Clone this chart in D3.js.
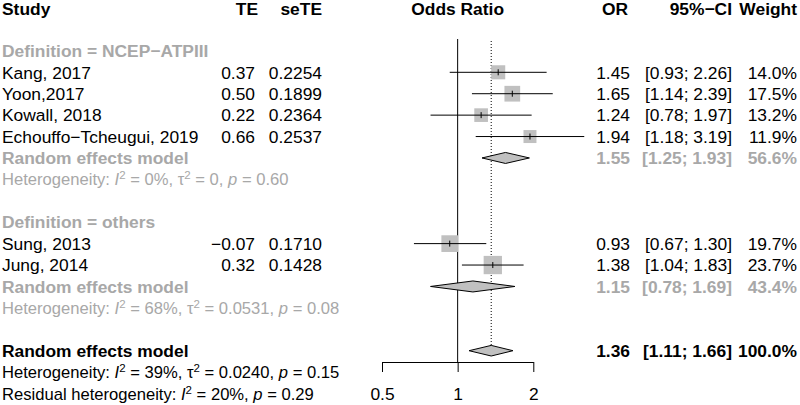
<!DOCTYPE html>
<html><head><meta charset="utf-8">
<script src="https://cdn.jsdelivr.net/npm/d3@7"></script>
<style>
html,body{margin:0;padding:0;background:#fff;}
svg text{font-family:"Liberation Sans",Arial,Helvetica,sans-serif;font-size:17.4px;}
</style></head>
<body><svg id="chart" width="800" height="405"></svg>
<script>
// ---- data ----
const groups = ["Definition = NCEP\u2212ATPIII", "Definition = others"];
const studies = ["Kang, 2017", "Yoon,2017", "Kowall, 2018", "Echouffo\u2212Tcheugui, 2019", "Sung, 2013", "Jung, 2014"];
const studyGroup = [0, 0, 0, 0, 1, 1];
const te = ["0.37", "0.50", "0.22", "0.66", "\u22120.07", "0.32"];
const seTE = ["0.2254", "0.1899", "0.2364", "0.2537", "0.1710", "0.1428"];
const orVals = [1.45, 1.65, 1.24, 1.94, 0.93, 1.38];
const lower = [0.93, 1.14, 0.78, 1.18, 0.67, 1.04];
const upper = [2.26, 2.39, 1.97, 3.19, 1.30, 1.83];
const weights = [14.0, 17.5, 13.2, 11.9, 19.7, 23.7];
const subOR = [1.55, 1.15];
const subLower = [1.25, 0.78];
const subUpper = [1.93, 1.69];
const subWeight = [56.6, 43.4];
const overallOR = 1.36, overallLower = 1.11, overallUpper = 1.66, overallWeight = 100.0;
const hetI2 = ["0%", "68%", "39%"];
const hetTau2 = ["0", "0.0531", "0.0240"];
const hetP = ["0.60", "0.08", "0.15"];
const residI2 = "20%", residP = "0.29";
const axisTicks = [0.5, 1, 2];
const headers = {study: "Study", te: "TE", se: "seTE", plot: "Odds Ratio", or: "OR", ci: "95%\u2212CI", w: "Weight"};

// ---- layout ----
const svg = d3.select("#chart");
const x = d3.scaleLog().domain([0.5, 2]).range([382, 533.3]);
const row = d3.scaleLinear().domain([2, 15]).range([72.3, 350.7]);
const GREY = "#a8a8a8";
const col = {study: 2, te: 255, se: 322, or: 630, ci: 732, w: 797};
const fmt2 = d3.format(".2f"), fmt1 = d3.format(".1f");
const ciText = (l, u) => "[" + fmt2(l) + "; " + fmt2(u) + "]";

function txt(xp, yp, s, opt = {}) {
  return svg.append("text").attr("x", xp).attr("y", yp).attr("dy", "0.36em")
    .attr("text-anchor", opt.anchor || "start")
    .attr("font-weight", opt.bold ? "bold" : "normal")
    .attr("fill", opt.color || "#000").text(s);
}
function rich(xp, yp, segs, color) {
  const t = svg.append("text").attr("x", xp).attr("y", yp).attr("dy", "0.36em")
    .attr("fill", color).style("font-size", "16.6px");
  segs.forEach(s => {
    const sp = t.append("tspan").text(s.t);
    if (s.i) sp.attr("font-style", "italic");
    if (s.sup) sp.attr("baseline-shift", "super").style("font-size", "11.5px");
  });
}
function het(prefix, i2, tau2, p) {
  const segs = [{t: prefix}, {t: "I", i: 1}, {t: "2", sup: 1}, {t: " = " + i2 + ", "}];
  if (tau2 !== null) segs.push({t: "\u03c4"}, {t: "2", sup: 1}, {t: " = " + tau2 + ", "});
  segs.push({t: "p", i: 1}, {t: " = " + p});
  return segs;
}

// headers
const hy = 9;
txt(col.study, hy, headers.study, {bold: 1});
txt(258, hy, headers.te, {bold: 1, anchor: "end"});
txt(col.se, hy, headers.se, {bold: 1, anchor: "end"});
txt((x.range()[0] + x.range()[1]) / 2, hy, headers.plot, {bold: 1, anchor: "middle"});
txt(628, hy, headers.or, {bold: 1, anchor: "end"});
txt(col.ci, hy, headers.ci, {bold: 1, anchor: "end"});
txt(col.w, hy, headers.w, {bold: 1, anchor: "end"});

// row positions
const groupRow = [1, 9];
const studyRow = [2, 3, 4, 5, 10, 11];
const subRow = [6, 12];
const hetRow = [7, 13];
const overallRow = 15;

// reference lines
svg.append("line").attr("x1", x(1)).attr("x2", x(1)).attr("y1", 39).attr("y2", 362)
  .attr("stroke", "#000").attr("stroke-width", 1);
svg.append("line").attr("x1", x(overallOR)).attr("x2", x(overallOR)).attr("y1", 41)
  .attr("y2", row(overallRow) - 5.3)
  .attr("stroke", "#000").attr("stroke-width", 1).attr("stroke-dasharray", "1,2");

// axis
const axisY = 362;
const axis = d3.axisBottom(x).tickValues(axisTicks).tickFormat(d => d).tickSize(10).tickSizeOuter(0);
const ag = svg.append("g").attr("transform", `translate(0,${axisY})`).call(axis);
ag.select(".domain").attr("stroke", "#000");
ag.selectAll(".tick line").attr("stroke", "#000");
ag.selectAll(".tick text").attr("font-size", "17.4px").attr("fill", "#000")
  .attr("font-family", "Liberation Sans, Arial, sans-serif").attr("y", 32).attr("dy", "0.36em");

// group labels
groups.forEach((g, i) => txt(col.study, row(groupRow[i]), g, {bold: 1, color: GREY}));

// studies
studies.forEach((s, i) => {
  const y = row(studyRow[i]);
  txt(col.study, y, s);
  txt(col.te, y, te[i], {anchor: "end"});
  txt(col.se, y, seTE[i], {anchor: "end"});
  txt(col.or, y, fmt2(orVals[i]), {anchor: "end"});
  txt(col.ci, y, ciText(lower[i], upper[i]), {anchor: "end"});
  txt(col.w, y, fmt1(weights[i]) + "%", {anchor: "end"});
  const sz = 3.76 * Math.sqrt(weights[i]);
  svg.append("rect").attr("x", x(orVals[i]) - sz / 2).attr("y", y - sz / 2)
    .attr("width", sz).attr("height", sz).attr("fill", "#c0c0c0");
  svg.append("line").attr("x1", x(lower[i])).attr("x2", x(upper[i])).attr("y1", y).attr("y2", y)
    .attr("stroke", "#000").attr("stroke-width", 1);
  svg.append("line").attr("x1", x(orVals[i])).attr("x2", x(orVals[i])).attr("y1", y - 3).attr("y2", y + 3)
    .attr("stroke", "#000").attr("stroke-width", 1);
});

function diamond(est, lo, hi, y, h) {
  const pts = [[x(lo), y], [x(est), y - h], [x(hi), y], [x(est), y + h]];
  svg.append("polygon").attr("points", pts.map(p => p.join(",")).join(" "))
    .attr("fill", "#c0c0c0").attr("stroke", "#000").attr("stroke-width", 1);
}

// subgroup summaries
subOR.forEach((o, i) => {
  const y = row(subRow[i]);
  txt(col.study, y, "Random effects model", {bold: 1, color: GREY});
  txt(col.or, y, fmt2(o), {anchor: "end", bold: 1, color: GREY});
  txt(col.ci, y, ciText(subLower[i], subUpper[i]), {anchor: "end", bold: 1, color: GREY});
  txt(col.w, y, fmt1(subWeight[i]) + "%", {anchor: "end", bold: 1, color: GREY});
  diamond(o, subLower[i], subUpper[i], y, 5.5);
  rich(col.study, row(hetRow[i]), het("Heterogeneity: ", hetI2[i], hetTau2[i], hetP[i]), GREY);
});

// overall
const oy = row(overallRow);
txt(col.study, oy, "Random effects model", {bold: 1});
txt(col.or, oy, fmt2(overallOR), {anchor: "end", bold: 1});
txt(col.ci, oy, ciText(overallLower, overallUpper), {anchor: "end", bold: 1});
txt(col.w, oy, fmt1(overallWeight) + "%", {anchor: "end", bold: 1});
diamond(overallOR, overallLower, overallUpper, oy, 5.3);
rich(col.study, row(16), het("Heterogeneity: ", hetI2[2], hetTau2[2], hetP[2]), "#000");
rich(col.study, row(17), het("Residual heterogeneity: ", residI2, null, residP), "#000");
</script></body></html>
